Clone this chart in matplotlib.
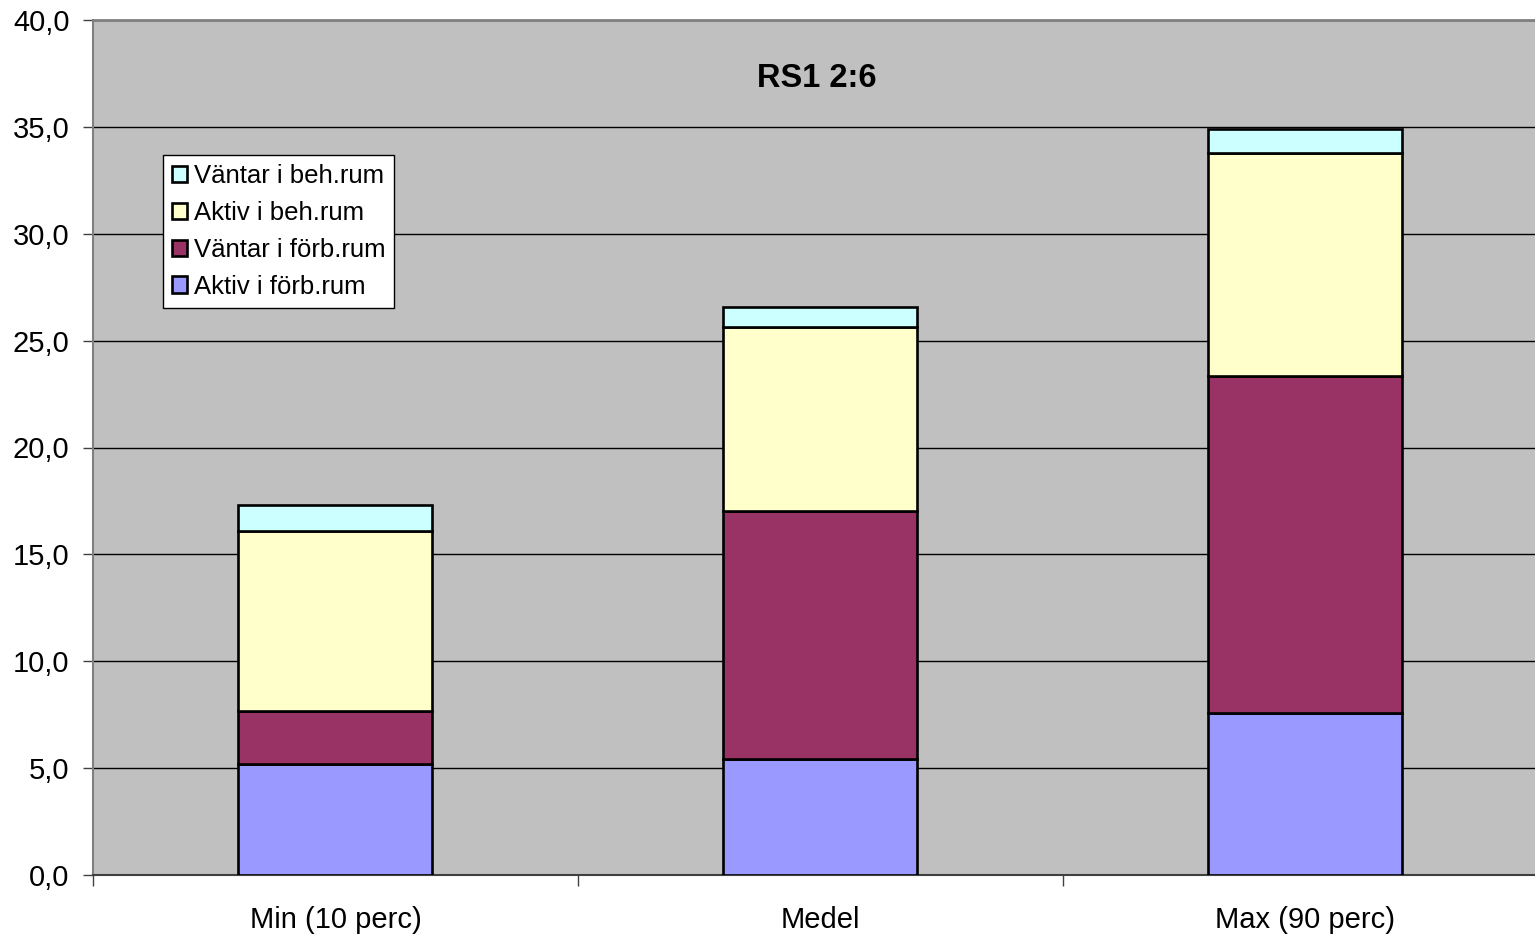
import matplotlib.pyplot as plt
from matplotlib.ticker import FuncFormatter, FixedLocator
import numpy as np

plt.rcParams["font.family"] = ["Liberation Sans", "DejaVu Sans"]

categories = ["Min (10 perc)", "Medel", "Max (90 perc)"]
series_names = ["Aktiv i förb.rum", "Väntar i förb.rum", "Aktiv i beh.rum", "Väntar i beh.rum"]
aktiv_forb = [5.2, 5.45, 7.6]
vantar_forb = [2.45, 11.6, 15.75]
aktiv_beh = [8.45, 8.6, 10.45]
vantar_beh = [1.2, 0.9, 1.1]
colors = ["#9999FF", "#993366", "#FFFFCC", "#CCFFFF"]

fig = plt.figure(figsize=(15.35, 9.35), dpi=100)
# plot area runs slightly past the right edge of the figure
ax = fig.add_axes([93 / 1535, 60 / 935, 1455 / 1535, 855 / 935])
ax.set_facecolor("#C0C0C0")

x = np.arange(len(categories))
bottom = np.zeros(len(categories))
handles = []
for name, vals, col in zip(series_names, [aktiv_forb, vantar_forb, aktiv_beh, vantar_beh], colors):
    b = ax.bar(x, vals, width=0.4, bottom=bottom, color=col, edgecolor="black",
               linewidth=1.9, label=name, zorder=3)
    handles.append(b)
    bottom += np.array(vals)

ax.set_xlim(-0.5, 2.5)
ax.set_ylim(0, 40)
ax.set_yticks(np.arange(0, 41, 5))
ax.yaxis.set_major_formatter(FuncFormatter(lambda v, p: f"{v:.1f}".replace(".", ",")))
ax.yaxis.grid(True, color="black", linewidth=1.0, zorder=1)
ax.set_axisbelow(True)

# category labels centred, ticks on category boundaries
ax.set_xticks(x)
ax.set_xticklabels(categories)
ax.tick_params(axis="x", which="major", length=0, pad=22, labelsize=21)
ax.xaxis.set_minor_locator(FixedLocator([-0.5, 0.5, 1.5, 2.5]))
ax.tick_params(axis="x", which="minor", length=8, color="#404040", width=1)
ax.tick_params(axis="y", length=7, color="#404040", width=1, labelsize=21, pad=10)

ax.spines["left"].set_color("#808080")
ax.spines["left"].set_linewidth(1.5)
ax.spines["top"].set_color("#808080")
ax.spines["top"].set_linewidth(2)
ax.spines["bottom"].set_color("#404040")
ax.spines["bottom"].set_linewidth(1.5)
ax.spines["right"].set_visible(False)

ax.text(0.4976, 0.931, "RS1 2:6", transform=ax.transAxes, ha="center", va="center",
        fontsize=23.5, fontweight="bold")

leg = ax.legend(handles[::-1], series_names[::-1], loc="upper left",
                bbox_to_anchor=(0.0481, 0.842), fontsize=18.5, frameon=True,
                fancybox=False, edgecolor="black", framealpha=1,
                handlelength=0.6, handleheight=0.6, handletextpad=0.25,
                labelspacing=0.5, borderpad=0.35, borderaxespad=0)
leg.get_frame().set_linewidth(1)

fig.savefig("out.png", dpi=100)
